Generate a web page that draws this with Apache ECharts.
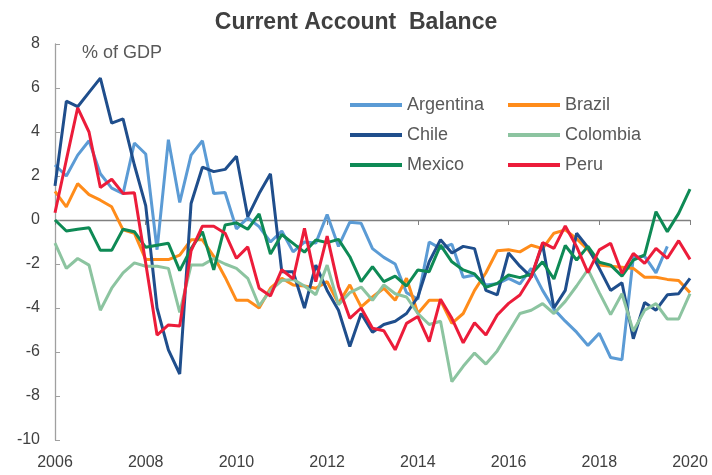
<!DOCTYPE html>
<html>
<head>
<meta charset="utf-8">
<script src="https://cdn.jsdelivr.net/npm/echarts@6/dist/echarts.min.js"></script>
<style>html,body{margin:0;padding:0;background:#fff}#c{width:712px;height:475px}</style>
</head>
<body>
<div id="c"></div>
<script>
var years = ['2006','2007','2008','2009','2010','2011','2012','2013','2014','2015','2016','2017','2018','2019','2020'];
var quarters = ['Q1','Q2','Q3','Q4'];
var categories = [];
years.forEach(function(y){ quarters.forEach(function(q){ if (!(y === '2020' && q !== 'Q1')) categories.push(y + q); }); });
var tickLabels = ['2006','2008','2010','2012','2014','2016','2018','2020'];

var argentina = [2.5,2.0,2.95,3.6,2.1,1.45,1.2,3.5,3.0,-1.35,
  3.65,0.8,2.95,3.6,1.2,1.25,-0.4,0.1,-0.3,-1.0,
  -0.5,-1.45,-1.0,-1.05,0.25,-1.2,-0.1,-0.15,-1.3,-1.7,
  -2.0,-3.3,-3.6,-1.0,-1.3,-1.1,-2.6,-2.5,-2.95,-2.9,
  -2.65,-2.9,-2.2,-3.2,-4.05,-4.6,-5.1,-5.7,-5.15,-6.25,
  -6.35,-1.7,-1.65,-2.4,-1.2,null,null];
var brazil = [1.3,0.6,1.65,1.15,0.9,0.6,-0.45,-0.6,-1.8,-1.8,
  -1.8,-1.6,-0.9,-0.9,-1.65,-2.6,-3.65,-3.65,-4.0,-3.1,
  -2.65,-2.95,-3.0,-3.1,-2.8,-3.8,-2.95,-3.95,-3.5,-3.1,
  -3.65,-2.65,-4.25,-3.65,-3.65,-4.7,-4.25,-3.2,-2.4,-1.4,
  -1.35,-1.45,-1.15,-1.3,-0.6,-0.45,-0.85,-1.35,-2.05,-2.1,
  -2.15,-2.2,-2.6,-2.6,-2.7,-2.75,-3.3];
var chile = [1.55,5.4,5.15,5.8,6.45,4.4,4.6,2.5,0.65,-4.0,
  -5.9,-7.0,0.75,2.4,2.2,2.3,2.9,0.15,1.2,2.1,
  -2.35,-2.35,-4.0,-2.05,-3.2,-4.1,-5.75,-4.25,-5.1,-4.75,
  -4.6,-4.25,-3.5,-1.9,-0.9,-1.5,-1.2,-1.3,-3.2,-3.4,
  -1.5,-2.1,-2.6,-1.1,-4.0,-3.2,-0.6,-1.25,-2.2,-3.2,
  -2.85,-5.4,-3.75,-4.1,-3.4,-3.35,-2.65];
var colombia = [-1.05,-2.2,-1.75,-2.05,-4.1,-3.1,-2.4,-1.95,-2.1,-2.1,
  -2.2,-4.2,-2.05,-2.05,-1.75,-2.0,-2.2,-2.65,-3.9,-3.2,
  -2.75,-2.7,-3.0,-3.4,-2.05,-3.85,-3.3,-3.05,-3.65,-2.95,
  -3.35,-3.5,-4.25,-4.75,-4.6,-7.35,-6.65,-6.05,-6.55,-5.95,
  -5.1,-4.25,-4.1,-3.8,-4.25,-3.7,-3.0,-2.25,-3.3,-4.3,
  -3.35,-5.05,-4.1,-3.8,-4.5,-4.5,-3.35];
var mexico = [0.0,-0.5,-0.42,-0.35,-1.38,-1.38,-0.42,-0.53,-1.24,-1.15,
  -1.06,-2.3,-1.3,-0.53,-2.27,-0.23,-0.13,-0.42,0.28,-1.55,
  -0.66,-1.06,-1.46,-0.91,-1.03,-0.88,-1.67,-2.8,-2.12,-2.8,
  -2.55,-3.0,-2.27,-2.35,-1.14,-1.9,-2.27,-2.45,-3.06,-2.88,
  -2.5,-2.62,-2.46,-1.9,-2.68,-1.16,-1.82,-1.2,-1.92,-2.05,
  -2.55,-1.82,-1.59,0.38,-0.53,0.3,1.4];
var peru = [0.33,2.73,5.1,4.0,1.48,1.85,1.21,1.24,-1.97,-5.23,
  -4.77,-4.82,-1.4,-0.28,-0.28,-0.6,-1.74,-1.22,-3.1,-3.45,
  -2.26,-2.68,-0.38,-2.8,-0.73,-3.02,-4.47,-4.0,-4.92,-5.03,
  -5.9,-4.7,-4.39,-5.53,-3.6,-4.47,-5.58,-4.67,-5.23,-4.32,
  -3.79,-3.41,-2.58,-1.03,-1.29,-0.27,-1.21,-2.39,-1.36,-1.06,
  -2.42,-1.52,-1.97,-1.29,-1.74,-0.94,-1.79];

var names = ['Argentina','Brazil','Chile','Colombia','Mexico','Peru'];
var values = [argentina, brazil, chile, colombia, mexico, peru];
var colors = ['#5b9bd5','#ff8c1a','#1f4e8c','#8cc4a0','#0e8a55','#ec1c3a'];

var chart = echarts.init(document.getElementById('c'));
var font = '"Liberation Sans", Arial, sans-serif';
var legendCommon = {
  orient: 'vertical', icon: 'rect', itemWidth: 52, itemHeight: 4, itemGap: 10,
  textStyle: {fontFamily: font, fontSize: 18, color: '#595959', lineHeight: 20},
  selectedMode: false
};
chart.setOption({
  animation: false,
  title: {text: 'Current Account  Balance', left: 'center', top: 6,
    textStyle: {fontFamily: font, fontSize: 23, fontWeight: 'bold', color: '#404040'}},
  graphic: [{type: 'text', left: 82, top: 44,
    style: {text: '% of GDP', font: '18px ' + font, fill: '#595959'}}],
  legend: [
    Object.assign({left: 345, top: 90, data: ['Argentina','Chile','Mexico']}, legendCommon),
    Object.assign({left: 503, top: 90, data: ['Brazil','Colombia','Peru']}, legendCommon)
  ],
  grid: {left: 55, right: 22, top: 44, bottom: 35},
  xAxis: [{
    type: 'category', data: categories, boundaryGap: false,
    axisLine: {onZero: true, lineStyle: {color: '#808080', width: 1.3}},
    axisTick: {show: true, interval: 7, length: 5, lineStyle: {color: '#808080'}},
    axisLabel: {show: false}, splitLine: {show: false}
  }, {
    type: 'category', data: categories, boundaryGap: false, position: 'bottom',
    axisLine: {show: false}, axisTick: {show: false},
    axisLabel: {interval: 7, margin: 15, fontFamily: font, fontSize: 16, color: '#404040',
      formatter: function(v){ var y = v.slice(0,4); return tickLabels.indexOf(y) >= 0 && v.slice(4) === 'Q1' ? y : ''; }}
  }],
  yAxis: {
    type: 'value', min: -10, max: 8, interval: 2,
    axisLine: {show: true, lineStyle: {color: '#a0a0a0', width: 1.3}},
    axisTick: {show: true, inside: true, length: 5, lineStyle: {color: '#a0a0a0'}},
    axisLabel: {margin: 15, fontFamily: font, fontSize: 16, color: '#404040'},
    splitLine: {show: false}
  },
  series: names.map(function(n, k){
    return {name: n, type: 'line', data: values[k], xAxisIndex: 0, symbol: 'none',
      lineStyle: {width: 3, color: colors[k]}, itemStyle: {color: colors[k]}, z: 2 + k};
  })
});
</script>
</body>
</html>
